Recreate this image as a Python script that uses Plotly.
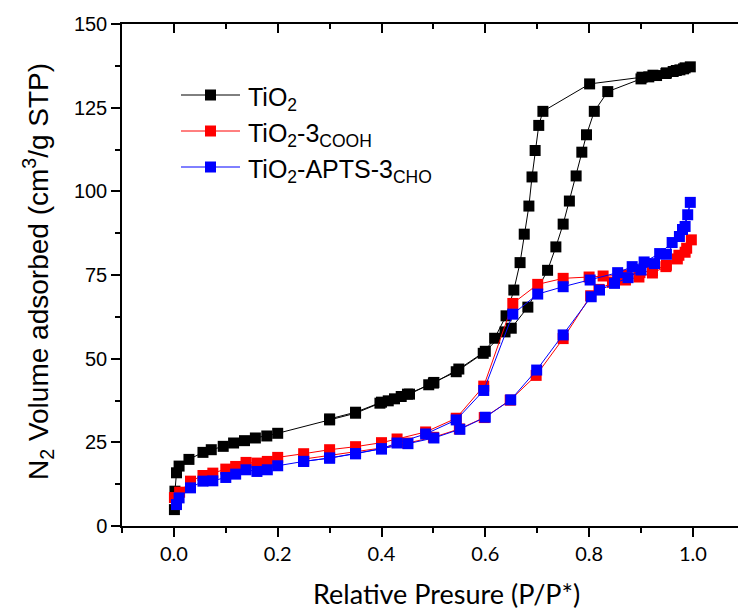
import plotly.graph_objects as go

# N2 sorption isotherms: adsorption branch followed by desorption branch
tio2_ads_x = [0.001, 0.002, 0.005, 0.010, 0.029, 0.056, 0.072, 0.095, 0.115, 0.136,
              0.157, 0.179, 0.200, 0.300, 0.350, 0.397, 0.413, 0.425, 0.438, 0.454,
              0.491, 0.501, 0.544, 0.596, 0.618, 0.640, 0.655, 0.667, 0.675, 0.684,
              0.690, 0.696, 0.703, 0.711, 0.801, 0.902, 0.923, 0.949, 0.968, 0.982, 0.995]
tio2_ads_y = [4.9, 10.4, 15.9, 17.9, 19.9, 22.0, 22.8, 23.8, 24.8, 25.5,
              26.3, 26.9, 27.7, 31.7, 33.7, 36.7, 37.4, 38.0, 38.7, 39.4,
              42.2, 42.9, 46.1, 51.6, 56.1, 62.8, 70.5, 78.7, 87.2, 95.6,
              104.3, 112.2, 119.7, 123.9, 132.1, 134.1, 134.7, 135.4, 136.1, 136.6, 137.2]
tio2_des_x = [0.985, 0.975, 0.962, 0.948, 0.930, 0.915, 0.900, 0.836, 0.810, 0.795,
              0.786, 0.775, 0.762, 0.750, 0.736, 0.720, 0.682, 0.650, 0.638, 0.600,
              0.549, 0.500, 0.450, 0.400, 0.350, 0.300]
tio2_des_y = [136.9, 136.3, 135.8, 135.2, 134.6, 134.2, 133.6, 129.8, 123.9, 116.9,
              111.7, 104.6, 97.1, 90.2, 83.4, 76.4, 65.4, 59.1, 58.0, 52.2,
              46.9, 42.7, 39.4, 37.0, 34.0, 32.0]

cooh_ads_x = [0.001, 0.011, 0.032, 0.056, 0.075, 0.100, 0.119, 0.139, 0.160, 0.180,
              0.200, 0.250, 0.300, 0.350, 0.400, 0.430, 0.485, 0.544, 0.597, 0.653,
              0.701, 0.750, 0.800, 0.827, 0.872, 0.898, 0.922, 0.949, 0.973, 0.988, 0.997]
cooh_ads_y = [8.5, 10.1, 13.4, 15.1, 15.8, 17.0, 17.8, 19.0, 18.8, 19.3,
              20.5, 21.6, 22.8, 23.7, 24.9, 26.0, 28.1, 32.2, 41.8, 66.5,
              72.2, 74.0, 74.4, 74.7, 75.0, 75.7, 76.3, 77.9, 80.9, 83.0, 85.5]
cooh_des_x = [0.985, 0.970, 0.948, 0.922, 0.896, 0.870, 0.845, 0.819, 0.803, 0.750,
              0.698, 0.648, 0.598, 0.550, 0.500, 0.450, 0.400, 0.350, 0.300, 0.250]
cooh_des_y = [81.8, 79.8, 77.5, 75.6, 74.4, 73.5, 72.8, 70.7, 68.8, 56.0,
              45.0, 37.6, 32.4, 29.0, 26.5, 24.8, 23.3, 22.2, 21.2, 20.0]

cho_ads_x = [0.005, 0.010, 0.032, 0.056, 0.075, 0.100, 0.119, 0.139, 0.160, 0.180,
             0.200, 0.250, 0.300, 0.350, 0.400, 0.430, 0.485, 0.544, 0.597, 0.653,
             0.701, 0.750, 0.802, 0.855, 0.883, 0.906, 0.936, 0.960, 0.980, 0.990, 0.995]
cho_ads_y = [6.4, 8.4, 11.4, 13.4, 13.5, 14.5, 15.5, 16.8, 16.3, 16.8,
             18.0, 19.3, 20.3, 21.6, 23.1, 24.8, 27.5, 31.7, 40.5, 63.3,
             69.3, 71.5, 73.5, 75.7, 77.5, 78.9, 81.4, 84.7, 88.6, 93.0, 96.7]
cho_des_x = [0.985, 0.974, 0.949, 0.926, 0.900, 0.875, 0.849, 0.820, 0.804, 0.750,
             0.699, 0.649, 0.600, 0.551, 0.501, 0.451, 0.400, 0.350, 0.300, 0.250]
cho_des_y = [89.5, 86.5, 81.2, 78.4, 76.5, 74.2, 72.5, 70.5, 68.5, 57.1,
             46.6, 37.7, 32.5, 28.9, 26.3, 24.6, 23.0, 21.6, 20.3, 19.3]

series_names = ["TiO<sub>2</sub>",
                "TiO<sub>2</sub>-3<sub>COOH</sub>",
                "TiO<sub>2</sub>-APTS-3<sub>CHO</sub>"]
series_colors = ["#000000", "#ff0000", "#0000ff"]

x_ticks = [0.0, 0.2, 0.4, 0.6, 0.8, 1.0]
x_tick_text = ["0.0", "0.2", "0.4", "0.6", "0.8", "1.0"]
y_ticks = [0, 25, 50, 75, 100, 125, 150]

ARIAL = "Arial, Liberation Sans, sans-serif"
CALIBRI_LIKE = "Lato, Carlito, sans-serif"

series_data = [
    (tio2_ads_x + tio2_des_x, tio2_ads_y + tio2_des_y),
    (cooh_ads_x + cooh_des_x, cooh_ads_y + cooh_des_y),
    (cho_ads_x + cho_des_x, cho_ads_y + cho_des_y),
]

fig = go.Figure()
for (xs, ys), name, color in zip(series_data, series_names, series_colors):
    fig.add_trace(go.Scatter(
        x=xs, y=ys, name=name, mode="lines+markers",
        line=dict(color=color, width=1),
        marker=dict(symbol="square", size=11, color=color, line=dict(width=0)),
        showlegend=False,
    ))

# empty trace so the mirrored top axis is drawn
fig.add_trace(go.Scatter(x=[], y=[], xaxis="x2", yaxis="y",
                         showlegend=False, hoverinfo="skip"))

W, H = 738, 612
ML, MR, MT, MB = 122, 0, 24, 86
PW, PH = W - ML - MR, H - MT - MB


def px_x(p):
    return (p - ML) / PW


def px_y(p):
    return (H - MB - p) / PH


# legend drawn as line + square + label rows
shapes = []
annotations = []
rows_y = [95, 131, 167]
for name, color, ry in zip(series_names, series_colors, rows_y):
    shapes.append(dict(type="line", xref="paper", yref="paper",
                       x0=px_x(181), x1=px_x(240), y0=px_y(ry), y1=px_y(ry),
                       line=dict(color=color, width=1)))
    shapes.append(dict(type="rect", xref="paper", yref="paper",
                       x0=px_x(205), x1=px_x(216), y0=px_y(ry + 5.5), y1=px_y(ry - 5.5),
                       fillcolor=color, line=dict(width=0)))
    annotations.append(dict(text=name, xref="paper", yref="paper",
                            x=px_x(246), y=px_y(ry), xanchor="left", yanchor="middle",
                            yshift=-4, showarrow=False,
                            font=dict(family=ARIAL, size=25, color="black")))

annotations.append(dict(text="N<sub>2</sub> Volume adsorbed (cm<sup>3</sup>/g STP)",
                        xref="paper", yref="paper", x=px_x(38), y=px_y(272),
                        xanchor="center", yanchor="middle", textangle=-90,
                        showarrow=False, font=dict(family=ARIAL, size=28, color="black")))
annotations.append(dict(text="Relative Presure (P/P*)",
                        xref="paper", yref="paper", x=px_x(446), y=px_y(594),
                        xanchor="center", yanchor="middle", showarrow=False,
                        font=dict(family=CALIBRI_LIKE, size=27, color="black")))

x_range = [-0.1, -0.1 + (W - ML - MR) / 519.0]

fig.update_layout(
    width=W, height=H,
    margin=dict(l=ML, r=MR, t=MT, b=MB, pad=0),
    paper_bgcolor="white", plot_bgcolor="white",
    showlegend=False,
    shapes=shapes, annotations=annotations,
    xaxis=dict(range=x_range, showgrid=False, zeroline=False,
               showline=True, linecolor="black", linewidth=1.5,
               ticks="outside", ticklen=9, tickwidth=1.5, tickcolor="black",
               tickvals=x_ticks, ticktext=x_tick_text,
               minor=dict(tickvals=[-0.1, 0.1, 0.3, 0.5, 0.7, 0.9], ticks="outside",
                          ticklen=5, tickwidth=1.5, tickcolor="black"),
               tickfont=dict(family=CALIBRI_LIKE, size=20, color="black")),
    xaxis2=dict(range=x_range, overlaying="x", side="top", anchor="y",
                showgrid=False, zeroline=False, showticklabels=False,
                showline=True, linecolor="black", linewidth=1.5,
                ticks="inside", ticklen=9, tickwidth=1.5, tickcolor="black",
                tickvals=x_ticks,
                minor=dict(tickvals=[-0.1, 0.1, 0.3, 0.5, 0.7, 0.9], ticks="inside",
                           ticklen=5, tickwidth=1.5, tickcolor="black")),
    yaxis=dict(range=[0, 150], showgrid=False, zeroline=False,
               showline=True, linecolor="black", linewidth=1.5,
               ticks="outside", ticklen=9, tickwidth=1.5, tickcolor="black",
               tickvals=y_ticks,
               minor=dict(tickvals=[12.5, 37.5, 62.5, 87.5, 112.5, 137.5], ticks="outside",
                          ticklen=5, tickwidth=1.5, tickcolor="black"),
               tickfont=dict(family=ARIAL, size=20, color="black")),
)

fig.write_html("out.html")
